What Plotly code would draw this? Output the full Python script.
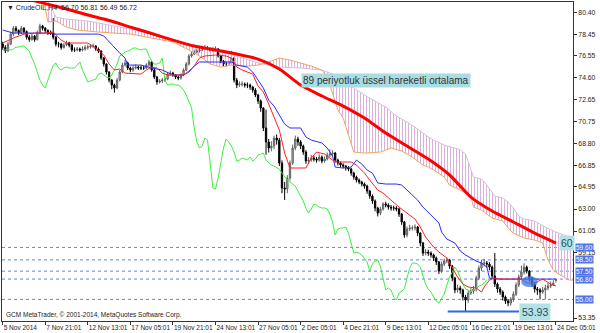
import numpy as np
import plotly.graph_objects as go

# ---------------- data ----------------
bar_open = [77.6,77.3,77.0,77.6,78.5,79.0,78.8,78.6,79.0,78.7,
 78.2,78.0,78.3,78.0,78.6,79.2,79.0,78.8,78.6,78.6,
 78.2,77.6,77.6,77.3,77.5,77.7,77.5,77.07,77.07,77.16,
 77.07,77.16,77.33,77.33,77.42,77.42,77.16,76.98,76.36,75.83,
 75.12,74.41,73.97,73.71,74.41,75.12,75.74,75.92,75.48,75.30,
 75.48,75.56,75.48,75.48,75.48,75.74,76.01,75.30,74.68,74.24,
 74.33,74.41,74.50,74.94,75.03,74.86,74.68,74.59,74.86,75.30,
 75.83,76.54,76.72,76.89,76.98,77.07,77.25,77.25,77.16,77.07,
 77.16,77.16,76.54,76.10,75.83,75.83,75.92,76.36,74.41,73.97,
 74.06,74.06,73.97,73.97,73.79,73.53,73.09,72.56,71.94,70.17,
 68.93,68.40,68.57,69.28,69.10,67.07,64.86,64.77,65.74,67.07,
 68.40,69.19,68.93,68.57,68.04,67.25,67.33,67.51,67.42,67.33,
 67.60,67.25,67.42,67.78,67.86,67.95,67.33,67.07,66.89,66.80,
 66.63,66.54,66.18,65.83,65.56,65.39,65.21,65.03,64.59,64.15,
 63.71,63.09,62.64,63.00,63.44,63.35,63.17,63.09,63.09,63.00,
 62.55,61.85,60.70,61.23,61.32,61.32,61.40,60.87,59.99,59.10,
 59.19,59.10,58.93,58.66,58.31,57.51,58.13,58.40,58.48,57.95,
 56.89,55.83,56.01,55.83,55.21,54.94,55.56,55.74,55.92,56.89,
 57.77,58.22,58.22,58.13,57.86,57.07,56.36,55.92,55.65,55.21,
 54.86,54.68,55.03,55.47,56.27,56.98,57.42,57.86,57.51,56.89,
 56.36,55.92,55.83,55.65,55.83,56.01,56.18,56.27,56.70]

bar_close = [77.3,77.0,77.6,78.5,79.0,78.8,78.6,79.0,78.7,78.2,
 78.0,78.3,78.0,78.6,79.2,79.0,78.8,78.6,78.6,78.2,
 77.6,77.6,77.3,77.5,77.7,77.5,77.07,77.07,77.16,77.07,
 77.16,77.33,77.33,77.42,77.42,77.16,76.98,76.36,75.83,75.12,
 74.41,73.97,73.71,74.41,75.12,75.74,75.92,75.48,75.30,75.48,
 75.56,75.48,75.48,75.48,75.74,76.01,75.30,74.68,74.24,74.33,
 74.41,74.50,74.94,75.03,74.86,74.68,74.59,74.86,75.30,75.83,
 76.54,76.72,76.89,76.98,77.07,77.25,77.25,77.16,77.07,77.16,
 77.16,76.54,76.10,75.83,75.83,75.92,76.36,74.41,73.97,74.06,
 74.06,73.97,73.97,73.79,73.53,73.09,72.56,71.94,70.17,68.93,
 68.40,68.57,69.28,69.10,67.07,64.86,64.77,65.74,67.07,68.40,
 69.19,68.93,68.57,68.04,67.25,67.33,67.51,67.42,67.33,67.60,
 67.25,67.42,67.78,67.86,67.95,67.33,67.07,66.89,66.80,66.63,
 66.54,66.18,65.83,65.56,65.39,65.21,65.03,64.59,64.15,63.71,
 63.09,62.64,63.00,63.44,63.35,63.17,63.09,63.09,63.00,62.55,
 61.85,60.70,61.23,61.32,61.32,61.40,60.87,59.99,59.10,59.19,
 59.10,58.93,58.66,58.31,57.51,58.13,58.40,58.48,57.95,56.89,
 55.83,56.01,55.83,55.21,54.94,55.56,55.74,55.92,56.89,57.77,
 58.22,58.22,58.13,57.86,57.07,56.36,55.92,55.65,55.21,54.86,
 54.68,55.03,55.47,56.27,56.98,57.42,57.86,57.51,56.89,56.36,
 55.92,55.83,55.65,55.83,56.01,56.18,56.27,56.45,56.72]

bar_high = [77.8,77.5,77.8,78.7,79.2,79.2,78.9,79.2,79.1,78.8,
 78.4,78.5,78.4,78.8,79.4,79.3,79.1,78.9,78.8,79.9,
 78.3,77.8,77.7,77.7,77.9,77.8,77.6,77.3,77.35,77.3,
 77.4,77.5,77.55,77.6,77.65,77.5,77.3,77.05,76.45,75.9,
 75.2,74.5,74.1,74.6,75.3,75.95,76.2,76.05,75.6,75.7,
 75.8,75.7,75.7,75.65,75.9,76.2,76.1,75.4,74.8,74.5,
 74.6,74.7,75.1,75.25,75.15,74.95,74.8,75.0,75.45,76.0,
 76.7,76.95,77.1,77.2,77.3,77.45,77.5,77.4,77.3,77.35,
 77.4,77.25,76.65,76.2,76.05,76.1,77.0,76.45,74.6,74.3,
 74.3,74.2,74.2,74.1,73.9,73.7,73.2,72.7,72.0,71.8,
 69.2,69.0,69.5,69.6,69.3,67.3,65.4,66.0,67.3,68.7,
 69.5,69.4,69.1,68.7,68.2,67.6,67.8,67.7,67.6,67.85,
 67.75,67.65,68.0,68.3,68.2,68.05,67.45,67.2,67.05,66.9,
 66.8,66.65,66.3,65.95,65.7,65.5,65.35,65.15,64.7,64.3,
 63.85,63.2,63.2,63.6,63.65,63.5,63.35,63.3,63.25,63.1,
 62.65,61.95,61.45,61.6,61.55,61.65,61.5,60.95,60.1,59.45,
 59.4,59.25,59.05,58.8,58.4,58.35,58.6,58.7,58.6,58.05,
 57.0,56.3,56.2,55.95,55.4,55.8,56.0,56.2,57.1,58.0,
 58.5,58.6,58.4,58.3,58.0,59.1,56.5,56.1,55.8,55.35,
 55.0,55.2,55.7,56.5,57.2,58.0,58.2,58.0,57.6,57.0,
 56.5,56.1,56.0,56.1,56.3,56.5,56.6,56.7,56.81]

bar_low = [77.1,76.8,76.9,77.5,78.3,78.6,78.4,78.5,78.5,78.0,
 77.8,77.9,77.8,77.9,78.5,78.8,78.6,78.4,78.4,78.0,
 77.4,77.3,77.1,77.2,77.4,77.3,76.9,76.9,76.95,76.9,
 76.95,77.0,77.1,77.2,77.25,77.0,76.8,76.2,75.6,74.9,
 74.2,73.6,73.3,73.6,74.3,75.0,75.6,75.3,75.1,75.15,
 75.35,75.3,75.3,75.3,75.4,75.6,75.15,74.5,74.0,74.1,
 74.15,74.25,74.4,74.8,74.7,74.5,74.4,74.45,74.75,75.2,
 75.7,76.4,76.6,76.75,76.85,76.95,77.05,77.0,76.9,76.9,
 76.95,76.4,75.9,75.65,75.6,75.7,75.8,74.2,73.7,73.8,
 73.85,73.75,73.7,73.55,73.3,72.9,72.3,71.6,69.9,67.8,
 68.0,68.1,68.3,68.7,66.8,64.4,63.8,64.4,65.5,66.9,
 68.2,68.6,68.3,67.8,67.0,67.0,67.2,67.2,67.1,67.2,
 67.05,67.1,67.3,67.6,67.7,67.1,66.85,66.7,66.6,66.4,
 66.35,65.95,65.6,65.35,65.2,65.0,64.8,64.35,63.9,63.45,
 62.8,62.35,62.45,62.85,63.15,62.95,62.85,62.85,62.8,62.3,
 61.6,60.45,60.5,61.05,61.1,61.1,60.6,59.7,58.85,58.9,
 58.85,58.7,58.4,58.05,57.25,57.35,57.95,58.2,57.7,56.6,
 55.55,55.6,55.5,54.9,53.93,54.7,55.4,55.5,55.7,56.7,
 57.5,57.9,57.8,57.6,56.8,56.1,55.6,55.4,54.9,54.6,
 54.4,54.45,54.8,55.3,56.1,56.8,57.2,57.3,56.6,56.1,
 55.6,55.4,55.0,55.5,55.0,55.8,56.0,56.2,56.49]

chikou_shift = 26

ema_idx = [0,8,16,24,32,40,48,56,64,72,80,88,96,104,112,120,128,136,144,152,160,168,176,184,192,200,208]
ema_val = [82.16,81.67,81.18,80.70,80.17,79.68,79.10,78.53,77.95,77.42,77.07,76.71,76.27,75.39,73.97,
           73.00,72.11,71.05,69.72,68.57,67.42,66.01,64.06,62.82,61.85,60.87,59.99]

tenkan_idx = [0,4,8,12,16,19,22,24,32,35,38,40,42,44,46,52,54,56,58,60,62,68,70,72,74,76,80,84,86,88,
              90,92,94,96,98,100,102,104,106,108,112,114,116,118,121,124,126,131,133,136,138,141,143,146,
              149,152,155,157,159,162,164,167,169,171,173,175,178,180,181,183,185,187,195,197,200,203,206,208]
tenkan_val = [77.69,78.13,78.48,78.57,78.57,78.66,77.95,77.69,77.69,77.25,76.63,75.83,75.30,75.39,75.03,
              74.94,75.30,75.56,75.48,75.03,74.86,74.86,75.21,75.65,76.36,76.54,76.63,76.54,76.36,75.56,
              75.30,75.12,74.94,73.88,73.35,72.29,71.14,69.99,67.95,66.63,66.63,66.63,67.51,68.04,67.86,
              67.33,67.16,67.16,66.89,66.18,65.56,64.68,64.41,63.79,63.17,62.64,62.11,61.40,60.52,59.63,
              59.19,58.66,57.86,56.98,56.36,56.10,56.01,55.65,56.10,56.71,56.89,56.80,56.80,56.45,56.45,
              56.80,56.36,56.18]

kijun_idx = [0,4,8,12,16,20,24,28,32,36,38,40,42,44,46,47,52,56,60,64,68,70,72,74,80,86,88,92,94,
             96,98,100,102,104,106,108,112,114,116,120,122,124,125,128,131,133,135,137,139,141,144,148,
             150,152,154,156,158,160,162,164,165,167,170,172,174,176,178,180,182,183,186,208]
kijun_val = [78.84,78.57,78.57,78.57,78.57,78.48,78.48,78.48,78.48,78.48,78.31,77.78,77.25,76.80,76.36,
             75.74,75.74,75.48,75.30,74.86,74.86,75.12,75.65,76.01,76.01,76.01,75.74,75.56,75.12,
             74.41,73.71,72.64,72.11,71.32,70.52,70.17,70.17,69.37,69.10,68.84,68.40,67.69,66.71,66.63,
             66.71,67.33,66.98,66.45,66.18,65.30,65.21,65.21,65.12,64.68,64.24,63.79,63.17,62.73,62.20,
             61.76,60.96,60.34,59.99,59.28,58.93,58.66,58.40,58.22,57.86,56.89,56.80,56.80]

spanA_idx = [0,8,15,17,20,24,28,36,48,56,64,70,74,78,82,86,92,96,100,104,108,112,116,120,122,124,126,
             128,130,132,136,142,146,150,154,158,160,162,166,168,172,176,177,180,184,188,190,192,196,
             200,203,205,207,209,211,213,216]
spanA_val = [83.26,82.73,81.94,79.55,79.64,79.10,78.84,78.66,78.48,78.13,77.78,77.07,76.54,75.83,75.56,
             75.74,75.65,75.74,76.01,76.36,76.18,75.92,75.65,75.30,74.68,73.26,71.76,71.05,69.55,68.04,
             67.95,68.04,68.40,68.13,67.60,66.89,66.71,66.45,65.83,65.12,64.68,64.15,63.17,62.91,62.20,
             61.94,61.32,60.87,60.43,60.25,59.99,58.48,57.60,57.24,56.98,56.71,56.71]

spanB_idx = [0,8,16,20,24,32,40,48,56,64,72,80,88,96,104,112,120,124,128,132,136,140,144,148,152,156,
             160,162,166,170,172,174,176,177,180,182,185,188,190,192,194,196,200,204,208,212,216]
spanB_val = [83.70,83.09,81.94,79.99,79.81,79.64,79.28,78.93,78.48,77.95,77.42,76.98,76.54,75.92,75.56,
             75.48,75.30,74.94,74.32,73.71,73.09,72.56,72.02,71.23,70.70,70.08,69.37,69.10,68.66,68.40,
             68.22,67.86,66.63,65.83,65.65,65.12,64.15,63.97,63.62,63.09,62.38,62.11,61.94,61.40,60.96,
             60.61,60.43]

level_prices = [59.60, 58.50, 57.50, 56.80, 55.00]
support_price = 53.93
support_from, support_to = 167.3, 194.1
ema_label = "60"

x_tick_idx = [0,16,32,48,64,80,96,112,128,144,160,176,192,208]
x_tick_text = ['5 Nov 2014','7 Nov 21:01','12 Nov 13:01','17 Nov 05:01','19 Nov 21:01','24 Nov 13:01',
               '27 Nov 05:01','2 Dec 05:01','4 Dec 21:01','9 Dec 13:01','12 Dec 05:01','16 Dec 21:01',
               '19 Dec 13:01','24 Dec 05:01']
y_ticks = [80.40,78.45,76.55,74.60,72.65,70.75,68.80,66.85,64.95,63.00,61.05,59.15,53.35]

title_text = "▼ CrudeOIL,H4  56.70 56.81 56.49 56.72"
ema_text = "89 periyotluk üssel hareketli ortalama"
copyright_text = "GCM MetaTrader, © 2001-2014, MetaQuotes Software Corp."

# ---------------- figure ----------------
FONT = "Liberation Sans, Arial, sans-serif"
idx = np.arange(len(bar_close))
fig = go.Figure()

# Kumo cloud (span B then span A filled with vertical hatch)
fig.add_trace(go.Scatter(x=spanB_idx, y=spanB_val, mode='lines',
                         line=dict(color='#d8bfd8', width=1), hoverinfo='skip'))
fig.add_trace(go.Scatter(x=spanA_idx, y=spanA_val, mode='lines',
                         line=dict(color='#f4a460', width=1), fill='tonexty',
                         fillcolor='rgba(0,0,0,0)',
                         fillpattern=dict(shape='|', fgcolor='#d7a6d7', bgcolor='rgba(0,0,0,0)',
                                          size=3, solidity=0.3, fillmode='replace'),
                         hoverinfo='skip'))

# candles
fig.add_trace(go.Candlestick(x=idx, open=bar_open, high=bar_high, low=bar_low, close=bar_close,
                             increasing=dict(line=dict(color='#606060', width=1), fillcolor='#bdbdbd'),
                             decreasing=dict(line=dict(color='#000000', width=1), fillcolor='#000000'),
                             whiskerwidth=0, hoverinfo='skip'))

# chikou span (close shifted back)
fig.add_trace(go.Scatter(x=idx[chikou_shift:] - chikou_shift, y=bar_close[chikou_shift:], mode='lines',
                         line=dict(color='#3cf03c', width=1), hoverinfo='skip'))
# kijun / tenkan
fig.add_trace(go.Scatter(x=kijun_idx, y=kijun_val, mode='lines',
                         line=dict(color='#2a2aff', width=1), hoverinfo='skip'))
fig.add_trace(go.Scatter(x=tenkan_idx, y=tenkan_val, mode='lines',
                         line=dict(color='#ff2020', width=1), hoverinfo='skip'))
# EMA 89
fig.add_trace(go.Scatter(x=ema_idx, y=ema_val, mode='lines',
                         line=dict(color='#ff0000', width=3, shape='spline', smoothing=0.6),
                         hoverinfo='skip'))

shapes = []
for p in level_prices:
    shapes.append(dict(type='line', xref='paper', x0=0, x1=1, yref='y', y0=p, y1=p,
                       line=dict(color='#5f86f0', width=1, dash='3px,3px'), layer='below'))
shapes.append(dict(type='line', xref='x', x0=support_from, x1=support_to, yref='y',
                   y0=support_price, y1=support_price, line=dict(color='#3568d8', width=2)))
shapes.append(dict(type='circle', xref='x', x0=194.9, x1=201.2, yref='y', y0=56.10, y1=57.07,
                   fillcolor='rgba(60,120,225,0.75)', line=dict(width=0)))

annotations = []
for p in level_prices:
    annotations.append(dict(xref='paper', x=1, xanchor='left', xshift=2, yref='y', y=p,
                            text=f"{p:.2f}", showarrow=False, bgcolor='#4f74e6', borderpad=0,
                            font=dict(family=FONT, size=6.5, color='white')))
annotations.append(dict(xref='x', x=support_to, xanchor='left', yref='y', y=support_price,
                        text=f"{support_price:.2f}", showarrow=False, bgcolor='#b3e2e6', borderpad=2,
                        font=dict(family=FONT, size=10.5, color='#2e4d5c')))
annotations.append(dict(xref='x', x=ema_idx[-1] + 1.2, xanchor='left', yref='y', y=ema_val[-1],
                        text=ema_label, showarrow=False, bgcolor='#b3e2e6', borderpad=1,
                        font=dict(family=FONT, size=10.5, color='#2e4d5c')))
annotations.append(dict(xref='x', x=144, xanchor='center', yref='y', y=74.41,
                        text=ema_text, showarrow=False, bgcolor='#a9dde2', borderpad=1,
                        font=dict(family=FONT, size=10, color='#333333')))
annotations.append(dict(xref='paper', x=0, xanchor='left', xshift=2, yref='paper', y=0.019,
                        yanchor='middle', text=copyright_text, showarrow=False,
                        font=dict(family=FONT, size=6.5, color='#222222')))
annotations.append(dict(xref='paper', x=0, xanchor='left', xshift=3, yref='paper', y=0.984,
                        yanchor='middle', text=title_text, showarrow=False,
                        font=dict(family=FONT, size=7, color='#222222')))

fig.update_layout(
    width=600, height=333,
    margin=dict(l=2, r=27, t=2, b=12, autoexpand=False),
    paper_bgcolor='white', plot_bgcolor='white',
    showlegend=False,
    shapes=shapes, annotations=annotations,
    font=dict(family=FONT, size=7, color='#222222'),
    xaxis=dict(range=[-0.26, 214.4], rangeslider=dict(visible=False), showgrid=False, zeroline=False,
               tickmode='array', tickvals=x_tick_idx, ticktext=x_tick_text, tickangle=0,
               ticks='outside', ticklen=3, tickcolor='#333', showline=True, mirror=True,
               linecolor='#333', linewidth=1, ticklabelposition='outside right',
               automargin=False, ticklabeloverflow='allow',
               tickfont=dict(family=FONT, size=6.5, color='#222')),
    yaxis=dict(range=[53.09, 81.32], side='right', showgrid=False, zeroline=False,
               tickmode='array', tickvals=y_ticks, ticktext=[f"{v:.2f}" for v in y_ticks],
               ticks='outside', ticklen=3, tickcolor='#333', showline=True, mirror=True,
               linecolor='#333', linewidth=1, automargin=False,
               tickfont=dict(family=FONT, size=6.8, color='#222')),
)

fig.write_html("out.html")
